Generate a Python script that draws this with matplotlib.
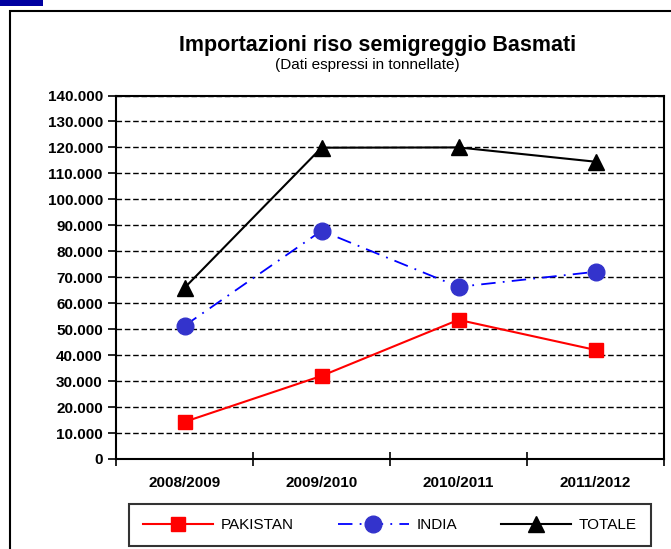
import matplotlib
matplotlib.use('Agg')
import matplotlib.pyplot as plt
from matplotlib.patches import Rectangle
from matplotlib.ticker import FuncFormatter

plt.rcParams['font.family'] = ['Liberation Sans', 'DejaVu Sans']

years = ['2008/2009', '2009/2010', '2010/2011', '2011/2012']
pakistan = [14300, 32000, 53600, 42000]
india = [51300, 87900, 66300, 72100]
totale = [65900, 119900, 120000, 114500]

fig = plt.figure(figsize=(6.71, 5.49), dpi=100)

# cornice esterna e rettangolo blu in alto a sinistra
fig.patches.append(Rectangle((10/671, -0.1), 1.0, 1 - 11/549 + 0.1, transform=fig.transFigure,
                             fill=False, ec='black', lw=1.5))
fig.patches.append(Rectangle((0, 1 - 6/549), 43/671, 6/549, transform=fig.transFigure,
                             fc='#0000a0', ec='none'))

ax = fig.add_axes([116/671, 1 - 459/549, (664 - 116)/671, (459 - 95.5)/549])
x = range(len(years))

ax.plot(x, pakistan, color='#ff0000', lw=1.5, marker='s', ms=9.5, label='PAKISTAN', zorder=3)
ax.plot(x, india, color='#0000ff', lw=1.3, ls=(0, (8, 4, 1, 4)), marker='o', ms=12,
        mfc='#3333cc', mec='#3333cc', label='INDIA', zorder=3)
ax.plot(x, totale, color='black', lw=1.5, marker='^', ms=12, label='TOTALE', zorder=3)

ax.set_xlim(-0.5, 3.5)
ax.set_ylim(0, 140000)
ax.set_yticks(range(0, 140001, 10000))
ax.yaxis.set_major_formatter(FuncFormatter(lambda v, p: '0' if v == 0 else '{:,.0f}'.format(v).replace(',', '.')))
ax.yaxis.grid(True, color='black', ls=(0, (4, 2)), lw=1)
ax.set_axisbelow(True)

ax.set_xticks([-0.5, 0.5, 1.5, 2.5, 3.5])
ax.set_xticklabels([])
ax.set_xticks(list(x), minor=True)
ax.set_xticklabels(years, minor=True)
ax.tick_params(axis='x', which='major', direction='inout', length=10, width=1.2)
ax.tick_params(axis='x', which='minor', length=0, pad=12)
ax.tick_params(axis='y', direction='out', length=6, width=1.2)
for lab in ax.get_xticklabels(minor=True) + ax.get_yticklabels():
    lab.set_fontweight('bold')
    lab.set_fontsize(11)
for s in ax.spines.values():
    s.set_linewidth(1.5)

fig.text(0.562, 1 - 46/549, 'Importazioni riso semigreggio Basmati', ha='center', va='center',
         fontsize=15.5, fontweight='bold')
fig.text(0.548, 1 - 65/549, '(Dati espressi in tonnellate)', ha='center', va='center', fontsize=11)

leg = fig.legend(loc='center', bbox_to_anchor=(390/671, 1 - 525/549), ncol=3, frameon=True,
                 fancybox=False, edgecolor='black', fontsize=11, handlelength=4.6,
                 handletextpad=0.5, columnspacing=2.9, borderpad=0.9, borderaxespad=0)
leg.get_frame().set_linewidth(1.5)

fig.savefig('out.png', dpi=100)
